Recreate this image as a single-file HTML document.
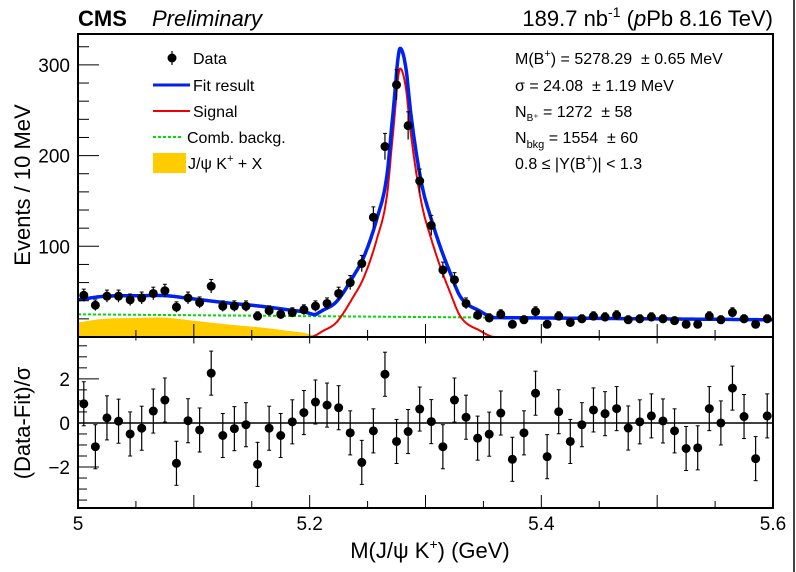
<!DOCTYPE html>
<html><head><meta charset="utf-8"><style>
html,body{margin:0;padding:0;background:#fff}
svg{display:block}
text{font-family:"Liberation Sans",sans-serif}
</style></head><body>
<svg id="chart" width="796" height="572" viewBox="0 0 796 572" xmlns="http://www.w3.org/2000/svg">
<rect x="0" y="0" width="796" height="572" fill="#fff"/>
<line x1="794" y1="0" x2="794" y2="572" stroke="#444" stroke-width="2"/>
<g id="upper"></g>
<g id="lower"></g>
<text x="78" y="26" font-size="22" font-weight="bold">CMS</text>
<text x="152" y="26" font-size="22" font-style="italic">Preliminary</text>
<text x="773" y="26" font-size="22" text-anchor="end">189.7 nb<tspan dy="-9" font-size="14">-1</tspan><tspan dy="9"> (</tspan><tspan font-style="italic">p</tspan>Pb 8.16 TeV)</text>
<text transform="translate(30,185) rotate(-90)" font-size="22" text-anchor="middle">Events / 10 MeV</text>
<text transform="translate(30,423) rotate(-90)" font-size="22" text-anchor="middle">(Data-Fit)/σ</text>
<text x="430" y="558" font-size="22" text-anchor="middle">M(J/ψ K<tspan dy="-9" font-size="14">+</tspan><tspan dy="9">) (GeV)</tspan></text>
<g font-size="16">
 <g>
  <line x1="172" y1="51" x2="172" y2="65" stroke="#000" stroke-width="1.2"/><circle cx="172" cy="58" r="4.5" fill="#000"/>
  <text x="193" y="64">Data</text></g>
 <g>
  <line x1="153" y1="85" x2="190" y2="85" stroke="#0022ee" stroke-width="3"/><text x="193" y="91">Fit result</text></g>
 <g>
  <line x1="153" y1="111" x2="190" y2="111" stroke="#e00" stroke-width="2"/><text x="193" y="117">Signal</text></g>
 <g>
  <line x1="153" y1="137" x2="183" y2="137" stroke="#00dd00" stroke-width="2" stroke-dasharray="3,2"/><text x="187" y="143">Comb. backg.</text></g>
 <g>
  <rect x="153" y="153" width="33" height="20" fill="#ffcc00"/><text x="188" y="169">J/ψ K<tspan dy="-7" font-size="11">+</tspan><tspan dy="7"> + X</tspan></text></g>
</g>
<g font-size="16" xml:space="preserve">
 <text x="515" y="64">M(B<tspan dy="-7" font-size="11">+</tspan><tspan dy="7">) = 5278.29 &#160;± 0.65 MeV</tspan></text>
 <text x="515" y="91">σ = 24.08 &#160;± 1.19 MeV</text>
 <text x="515" y="117">N<tspan dy="4" font-size="10">B⁺</tspan><tspan dy="-4"> = 1272 &#160;± 58</tspan></text>
 <text x="515" y="143">N<tspan dy="5" font-size="11">bkg</tspan><tspan dy="-5"> = 1554 &#160;± 60</tspan></text>
 <text x="515" y="169">0.8 ≤ |Y(B<tspan dy="-7" font-size="11">+</tspan><tspan dy="7">)| &lt; 1.3</tspan></text>
</g>
</svg>
<script>
const counts=[46,35,45,45,41,43,48,51,33,43,38,56,34,34,34,23,29,25,27,30,34,37,48,60,81,132,210,278,233,172,123,74,63,37,24,21,25,14,19,28,14,23,16,20,23,22,24,19,20,22,20,18,14,14,23,19,27,20,14,20];
const pulls=[0.87,-1.08,0.23,0.08,-0.5,-0.24,0.54,1.04,-1.83,0.1,-0.32,2.26,-0.57,-0.26,-0.08,-1.88,-0.24,-0.57,0.05,0.47,0.95,0.81,0.69,-0.45,-1.79,-0.36,2.21,-0.84,-0.39,0.63,0.06,-1.08,1.04,0.26,-0.69,-0.51,0.45,-1.65,-0.45,1.35,-1.53,0.51,-0.84,-0.08,0.59,0.42,0.65,-0.23,0.05,0.32,0.09,-0.36,-1.16,-1.13,0.65,0,1.58,0.29,-1.62,0.32];
const sigMass=[5.195,5.200,5.212,5.223,5.238,5.2465,5.258,5.2666,5.272,5.2781,5.283,5.287,5.2925,5.298,5.304,5.3126,5.321,5.330,5.347,5.36,5.37];
const sigVals=[0,0,7,16,45,65,108,155,225,296,275,228,177,139,112,78,50,23,7,0,0];
const partMass=[5.0,5.022,5.0507,5.071,5.0996,5.128,5.157,5.18,5.2,5.205];
const partVals=[16,20,21,21.5,18,14,10.6,7,3,0];
const combMass=[5.0,5.6];
const combVals=[25,19];
const xTickLabels=["5","5.2","5.4","5.6"];
const yTickLabels=["100","200","300"];
const pullTickLabels=["−2","0","2"];

const NS="http://www.w3.org/2000/svg";
const X0=78,X1=773,M0=5.0,M1=5.6;
const UT=34,UB=337,YMAX=(338-UT)/0.91;
const LT=337,LB=508,PMIN=-3.86,PMAX=3.9;
const xs=m=>X0+(m-M0)/(M1-M0)*(X1-X0);
const ys=v=>UB-(v/YMAX)*(UB-UT);
const yp=p=>LB-(p-PMIN)/(PMAX-PMIN)*(LB-LT);
function mk(tag,attrs,parent){const e=document.createElementNS(NS,tag);for(const k in attrs)e.setAttribute(k,attrs[k]);parent.appendChild(e);return e;}
function smooth(xa,ya){const n=xa.length,dl=[],t=[];
 for(let i=0;i<n-1;i++)dl.push((ya[i+1]-ya[i])/(xa[i+1]-xa[i]));
 t.push(dl[0]);for(let i=1;i<n-1;i++){t.push(dl[i-1]*dl[i]<=0?0:(dl[i-1]+dl[i])/2);}t.push(dl[n-2]);
 for(let i=0;i<n-1;i++){if(dl[i]===0){t[i]=0;t[i+1]=0;}else{const a=t[i]/dl[i],b=t[i+1]/dl[i],s=a*a+b*b;if(s>9){const k=3/Math.sqrt(s);t[i]=k*a*dl[i];t[i+1]=k*b*dl[i];}}}
 return x=>{if(x<=xa[0])return ya[0];if(x>=xa[n-1])return ya[n-1];let i=1;while(x>xa[i])i++;i--;
  const h=xa[i+1]-xa[i],u=(x-xa[i])/h,u2=u*u,u3=u2*u;
  return (2*u3-3*u2+1)*ya[i]+(u3-2*u2+u)*h*t[i]+(-2*u3+3*u2)*ya[i+1]+(u3-u2)*h*t[i+1];};}
const sigF=smooth(sigMass,sigVals),partF=smooth(partMass,partVals);
const combF=m=>combVals[0]+(m-combMass[0])/(combMass[1]-combMass[0])*(combVals[1]-combVals[0]);
const U=document.getElementById('upper'),L=document.getElementById('lower');
const grid=[];for(let m=M0;m<=M1+1e-9;m+=0.0005)grid.push(m);

let d="M"+xs(5.0)+","+ys(0);
grid.filter(m=>m<=5.206).forEach(m=>{d+=" L"+xs(m).toFixed(1)+","+ys(partF(m)).toFixed(1);});
d+=" L"+xs(5.206)+","+ys(0)+" Z";
let p=mk('path',{d:d,fill:'#ffcc00',stroke:'none'},U);


p=mk('line',{x1:xs(combMass[0]),y1:ys(combVals[0]),x2:xs(combMass[1]),y2:ys(combVals[1]),stroke:'#00dd00','stroke-width':2,'stroke-dasharray':'3,2'},U);


d="";grid.filter(m=>m>=5.195&&m<=5.37).forEach((m,i)=>{d+=(i?" L":"M")+xs(m).toFixed(1)+","+ys(sigF(m)).toFixed(1);});
p=mk('path',{d:d,fill:'none',stroke:'#e00','stroke-width':2},U);


d="";grid.forEach((m,i)=>{const v=sigF(m)+(m<=5.205?partF(m):0)+combF(m);d+=(i?" L":"M")+xs(m).toFixed(1)+","+ys(v).toFixed(1);});
p=mk('path',{d:d,fill:'none',stroke:'#0022ee','stroke-width':3.5,'stroke-linejoin':'round'},U);


counts.forEach((c,i)=>{const m=M0+0.005+0.01*i,x=xs(m),e=Math.sqrt(c);
 const g=mk('g',{},U);
 
 
 mk('line',{x1:x,y1:ys(c+e),x2:x,y2:Math.min(ys(c-e),UB),stroke:'#000','stroke-width':1.2},g);
 mk('line',{x1:x-2,y1:ys(c+e),x2:x+2,y2:ys(c+e),stroke:'#000','stroke-width':1},g);
 mk('circle',{cx:x,cy:ys(c),r:4.5,fill:'#000'},g);});
const zl=mk('line',{x1:X0,y1:yp(0),x2:X1,y2:yp(0),stroke:'#000','stroke-width':1.5},L);


pulls.forEach((v,i)=>{const x=xs(M0+0.005+0.01*i);
 const g=mk('g',{},L);
 
 
 mk('line',{x1:x,y1:yp(v+1),x2:x,y2:yp(v-1),stroke:'#000','stroke-width':1.2},g);
 mk('line',{x1:x-2,y1:yp(v+1),x2:x+2,y2:yp(v+1),stroke:'#000','stroke-width':1},g);
 mk('line',{x1:x-2,y1:yp(v-1),x2:x+2,y2:yp(v-1),stroke:'#000','stroke-width':1},g);
 mk('circle',{cx:x,cy:yp(v),r:4.5,fill:'#000'},g);});
let f=mk('rect',{x:X0,y:UT,width:X1-X0,height:UB-UT,fill:'none',stroke:'#000','stroke-width':2},U);


f=mk('rect',{x:X0,y:LT,width:X1-X0,height:LB-LT,fill:'none',stroke:'#000','stroke-width':2},L);


for(let k=0;k<=12;k++){const m=M0+0.05*k,x=xs(m),maj=(k%2===0);const len=maj?13:7;
 mk('line',{x1:x,y1:UB,x2:x,y2:UB-len,stroke:'#000','stroke-width':1},U);
 mk('line',{x1:x,y1:LB,x2:x,y2:LB-len,stroke:'#000','stroke-width':1},L);
 mk('line',{x1:x,y1:LT,x2:x,y2:LT+len*0.5,stroke:'#000','stroke-width':1},L);}
xTickLabels.forEach(t=>{const tx=mk('text',{x:xs(parseFloat(t)),y:530,'font-size':19,'text-anchor':'middle'},L);tx.textContent=t;
 
 });
for(let v=20;v<YMAX;v+=20){const maj=v%100===0;mk('line',{x1:X0,y1:ys(v),x2:X0+(maj?21:11),y2:ys(v),stroke:'#000','stroke-width':1},U);}
yTickLabels.forEach(t=>{const tx=mk('text',{x:70,y:ys(parseFloat(t))+7,'font-size':19,'text-anchor':'end'},U);tx.textContent=t;
 
 });
for(let v=-3.5;v<=3.5;v+=0.5){const maj=Math.abs(v%2)<1e-9;mk('line',{x1:X0,y1:yp(v),x2:X0+(maj?21:9),y2:yp(v),stroke:'#000','stroke-width':1},L);}
pullTickLabels.forEach(t=>{const v=parseFloat(t.replace('−','-'));const tx=mk('text',{x:70,y:yp(v)+7,'font-size':19,'text-anchor':'end'},L);tx.textContent=t;
 
 });
</script>
</body></html>
